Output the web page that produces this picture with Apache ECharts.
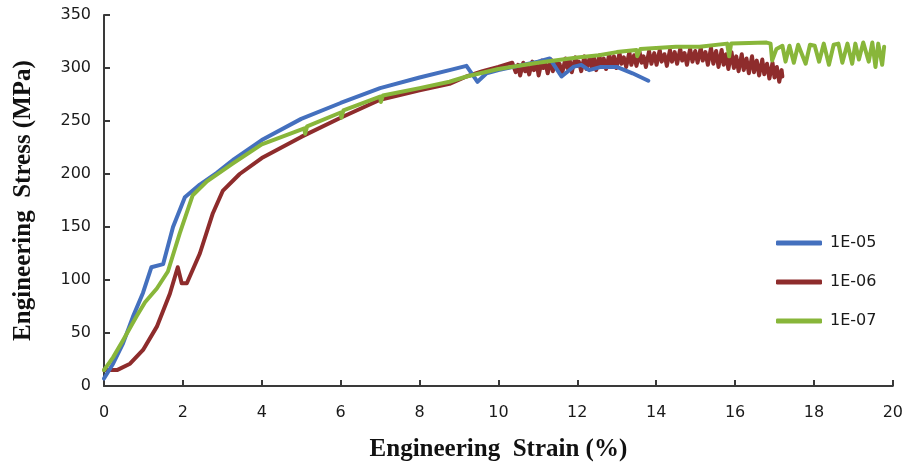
<!DOCTYPE html>
<html>
<head>
<meta charset="utf-8">
<script src="https://cdn.jsdelivr.net/npm/echarts@6/dist/echarts.min.js"></script>
<style>
html,body{margin:0;padding:0;background:#fff;}
#chart{width:906px;height:467px;}
</style>
</head>
<body>
<div id="chart"></div>
<script>
// ---- data (engineering strain %, engineering stress MPa) ----
const seriesNames = ['1E-05', '1E-06', '1E-07'];
const xTicks = [0, 2, 4, 6, 8, 10, 12, 14, 16, 18, 20];
const yTicks = [0, 50, 100, 150, 200, 250, 300, 350];

const strain05 = [0, 0.23, 0.48, 0.73, 0.99, 1.2, 1.5, 1.75, 2.05, 2.43, 2.86, 3.3, 4, 5, 6, 7, 8, 8.76, 9.19, 9.47, 9.7, 10, 10.5, 11, 11.3, 11.6, 11.9, 12.1, 12.3, 12.6, 13.0, 13.4, 13.8];
const stress05 = [7, 21, 40, 65, 88, 112, 115, 150, 178, 190, 201, 214, 232, 252, 267, 281, 291, 298, 302, 287, 295, 298, 302, 306, 309, 292, 301, 303, 298, 301, 301, 295, 288];

const strain06 = [0, 0.33, 0.66, 0.99, 1.34, 1.67, 1.87, 1.97, 2.1, 2.43, 2.76, 3.01, 3.44, 4, 5, 6, 7, 8, 8.76, 9.19, 9.6, 10, 10.35,
  10.40, 10.44, 10.50, 10.55, 10.63, 10.68, 10.72, 10.78, 10.86, 10.90, 10.97, 11.02, 11.10, 11.14, 11.19, 11.25, 11.33, 11.38, 11.46, 11.50,
  11.55, 11.61, 11.70, 11.75, 11.81, 11.86, 11.95, 12.00, 12.04, 12.10, 12.18, 12.23, 12.31, 12.36, 12.42, 12.48, 12.56, 12.60, 12.67, 12.73,
  12.81, 12.86, 12.93, 12.99, 13.07, 13.12, 13.18, 13.24, 13.32, 13.37, 13.44, 13.50, 13.58, 13.63, 13.68, 13.74, 13.82, 13.88, 13.95, 14.01,
  14.09, 14.14, 14.21, 14.27, 14.35, 14.40, 14.47, 14.53, 14.61, 14.66, 14.72, 14.78, 14.86, 14.92, 14.99, 15.05, 15.13, 15.18, 15.25, 15.31,
  15.39, 15.45, 15.52, 15.58, 15.66, 15.71, 15.77, 15.83, 15.91, 15.97, 16.03, 16.09, 16.17, 16.22, 16.29, 16.35, 16.43, 16.48, 16.55, 16.61,
  16.69, 16.74, 16.81, 16.87, 16.95, 17.00, 17.06, 17.12, 17.18, 17.20];
const stress06 = [15, 15, 21, 34, 56, 87, 112, 97, 97, 125, 163, 184, 200, 215, 235, 253, 270, 279, 285, 292, 297, 301, 305,
  306, 296, 303, 293, 305, 297, 302, 294, 306, 298, 304, 293, 307, 300, 305, 295, 308, 297, 306, 299,
  304, 294, 309, 300, 307, 296, 310, 302, 306, 297, 311, 299, 309, 301, 310, 298, 312, 303, 309, 299,
  313, 302, 311, 300, 314, 304, 310, 301, 315, 303, 312, 302, 315, 305, 311, 301, 316, 304, 314, 303,
  317, 306, 313, 302, 317, 306, 315, 304, 318, 307, 314, 303, 318, 306, 316, 305, 319, 307, 315, 303,
  319, 304, 316, 301, 317, 303, 313, 299, 315, 300, 311, 297, 313, 298, 309, 295, 311, 296, 307, 293,
  308, 294, 304, 290, 305, 291, 301, 287, 298, 292];

const strain07 = [0, 0.23, 0.48, 0.83, 1.04, 1.34, 1.62, 1.92, 2.25, 2.61, 3.27, 4, 5.08, 5.1, 5.15, 6.0, 6.02, 6.07, 7.0, 7.02, 7.07, 8, 8.76, 9.19, 10, 11, 12, 12.55, 13, 13.5, 13.52, 13.6, 14.5, 15.1, 15.8, 15.85, 15.9, 16.8,
  16.9, 16.94, 17.05, 17.2, 17.28, 17.38, 17.49, 17.6, 17.79, 17.9, 18.02, 18.13, 18.25, 18.38, 18.5, 18.62, 18.72, 18.85, 18.97, 19.05, 19.14, 19.25, 19.39, 19.48, 19.56, 19.63, 19.73, 19.78];
const stress07 = [15, 27, 43, 66, 79, 92, 108, 144, 180, 193, 210, 228, 243, 238, 245, 258, 253, 260, 273, 268, 274, 281, 287, 292, 299, 305, 310, 312, 315, 317, 311, 318, 320, 320, 323, 311, 323, 324,
  323, 307, 318, 321, 306, 321, 305, 322, 304, 322, 321, 306, 323, 303, 322, 323, 305, 323, 304, 323, 308, 324, 306, 324, 301, 323, 303, 320];

// ---- build ----
const pairs = (xs, ys) => xs.map((x, i) => [x, ys[i]]);
const colors = { '1E-05': '#4470BE', '1E-06': '#8E2C2C', '1E-07': '#88B63A' };
const dataMap = {
  '1E-05': pairs(strain05, stress05),
  '1E-06': pairs(strain06, stress06),
  '1E-07': pairs(strain07, stress07)
};
const drawOrder = ['1E-06', '1E-05', '1E-07'];

const chart = echarts.init(document.getElementById('chart'), null, { renderer: 'canvas' });
const labelFont = '"DejaVu Sans", sans-serif';
const titleFont = '"Liberation Serif", "DejaVu Serif", serif';
const axisColor = '#3a3a3a';

chart.setOption({
  animation: false,
  backgroundColor: '#ffffff',
  grid: { left: 104, right: 12, top: 15, bottom: 81, containLabel: false },
  legend: {
    data: seriesNames,
    orient: 'vertical',
    left: 771,
    top: 229,
    itemWidth: 46,
    itemHeight: 5,
    itemGap: 21,
    icon: 'roundRect',
    textStyle: { fontFamily: labelFont, fontSize: 16, lineHeight: 18, color: '#1a1a1a', padding: [0, 0, 0, 3] }
  },
  xAxis: {
    type: 'value',
    min: xTicks[0],
    max: xTicks[xTicks.length - 1],
    interval: 2,
    name: 'Engineering  Strain (%)',
    nameLocation: 'middle',
    nameGap: 51,
    nameTextStyle: { fontFamily: titleFont, fontWeight: 'bold', fontSize: 25, color: '#111' },
    axisLine: { show: true, onZero: false, lineStyle: { color: axisColor, width: 2 } },
    axisTick: { show: true, inside: true, length: 6, lineStyle: { color: axisColor, width: 2 } },
    axisLabel: { margin: 19, fontFamily: labelFont, fontSize: 16, color: '#1a1a1a', formatter: v => xTicks.includes(v) ? String(v) : '' },
    splitLine: { show: false }
  },
  yAxis: {
    type: 'value',
    min: yTicks[0],
    max: yTicks[yTicks.length - 1],
    interval: 50,
    name: 'Engineering  Stress (MPa)',
    nameLocation: 'middle',
    nameGap: 68,
    nameTextStyle: { fontFamily: titleFont, fontWeight: 'bold', fontSize: 25, color: '#111' },
    axisLine: { show: true, onZero: false, lineStyle: { color: axisColor, width: 2 } },
    axisTick: { show: true, inside: true, length: 6, lineStyle: { color: axisColor, width: 2 } },
    axisLabel: { margin: 13, fontFamily: labelFont, fontSize: 16, color: '#1a1a1a', formatter: v => yTicks.includes(v) ? String(v) : '' },
    splitLine: { show: false }
  },
  series: drawOrder.map((name, i) => ({
    name: name,
    type: 'line',
    data: dataMap[name],
    showSymbol: false,
    symbol: 'none',
    z: 2 + i,
    color: colors[name],
    lineStyle: { color: colors[name], width: 4, join: 'round', cap: 'round' },
    itemStyle: { color: colors[name] }
  }))
});
</script>
</body>
</html>
